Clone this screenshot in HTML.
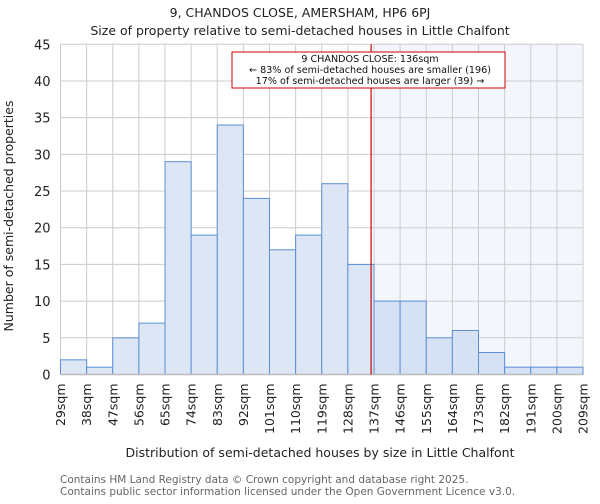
<!DOCTYPE html>
<html><head><meta charset="utf-8"><style>
body{margin:0;background:#fff;font-family:"DejaVu Sans","Liberation Sans",sans-serif}
</style></head><body>
<svg width="600" height="500" xmlns="http://www.w3.org/2000/svg" font-family="DejaVu Sans, Liberation Sans, sans-serif">
<text x="300" y="17" text-anchor="middle" font-size="12.5" fill="#222">9, CHANDOS CLOSE, AMERSHAM, HP6 6PJ</text>
<text x="300" y="35" text-anchor="middle" font-size="12.5" fill="#222">Size of property relative to semi-detached houses in Little Chalfont</text>
<g id="plot"></g>
<text transform="translate(13,216) rotate(-90)" text-anchor="middle" font-size="12.5" fill="#222">Number of semi-detached properties</text>
<text x="320" y="457" text-anchor="middle" font-size="12.5" fill="#222">Distribution of semi-detached houses by size in Little Chalfont</text>
<text x="60" y="483" font-size="10.5" fill="#666">Contains HM Land Registry data © Crown copyright and database right 2025.</text>
<text x="60" y="495" font-size="10.5" fill="#666">Contains public sector information licensed under the Open Government Licence v3.0.</text>
</svg>
<script>
const binLabels=["29sqm","38sqm","47sqm","56sqm","65sqm","74sqm","83sqm","92sqm","101sqm","110sqm","119sqm","128sqm","137sqm","146sqm","155sqm","164sqm","173sqm","182sqm","191sqm","200sqm","209sqm"];
const counts=[2,1,5,7,29,19,34,24,17,19,26,15,10,10,5,6,3,1,1,1];
const yTicks=[0,5,10,15,20,25,30,35,40,45];
const propertySize=136;
const binStart=29, binStep=9;
const L=60.5,R=583,T=44.3,B=374.5,yMax=45;
const NS="http://www.w3.org/2000/svg";
const g=document.getElementById('plot');
const bw=(R-L)/counts.length;
const xs=v=>L+(v-binStart)/binStep*bw;
const ys=v=>B-v/yMax*(B-T);
function mk(t,a,p){const e=document.createElementNS(NS,t);for(const k in a)e.setAttribute(k,a[k]);(p||g).appendChild(e);return e;}
const hx=xs(binStart+12*binStep);
let e=mk('rect',{x:hx,y:T,width:R-hx,height:B-T,fill:'#f3f6fd'});


yTicks.forEach(t=>{let l=mk('line',{x1:L,x2:R,y1:ys(t),y2:ys(t),stroke:'#ccc','stroke-width':1});


let tx=mk('text',{x:L-10,y:ys(t)+5,'text-anchor':'end','font-size':13,fill:'#222'});tx.textContent=t;

});
binLabels.forEach((b,i)=>{const x=L+i*bw;let l=mk('line',{x1:x,x2:x,y1:T,y2:B,stroke:'#ccc','stroke-width':1});


let tx=mk('text',{transform:`translate(${x+4.5},${B+9}) rotate(-90)`,'text-anchor':'end','font-size':12.5,fill:'#222'});tx.textContent=b;

});
counts.forEach((c,i)=>{const x=L+i*bw;let r=mk('rect',{x:x,y:ys(c),width:bw,height:B-ys(c),fill:i>=12?'#d6e1f3':'#dce6f4',stroke:'#5b8fd6','stroke-width':1});

});
e=mk('line',{x1:L,x2:R,y1:B,y2:B,stroke:'#bbb','stroke-width':1.5});


const px=xs(propertySize);
e=mk('line',{x1:px,x2:px,y1:T,y2:B,stroke:'#c00','stroke-width':1.2});


const ag=mk('g',{});


mk('rect',{x:232,y:52,width:273,height:36,fill:'#fff',stroke:'#c00','stroke-width':1},ag);
[["9 CHANDOS CLOSE: 136sqm",62],["← 83% of semi-detached houses are smaller (196)",73],["17% of semi-detached houses are larger (39) →",84]].forEach(([s,y])=>{let t=mk('text',{x:370,y:y,'text-anchor':'middle','font-size':9.6,fill:'#111'},ag);t.textContent=s;

});
</script>
</body></html>
